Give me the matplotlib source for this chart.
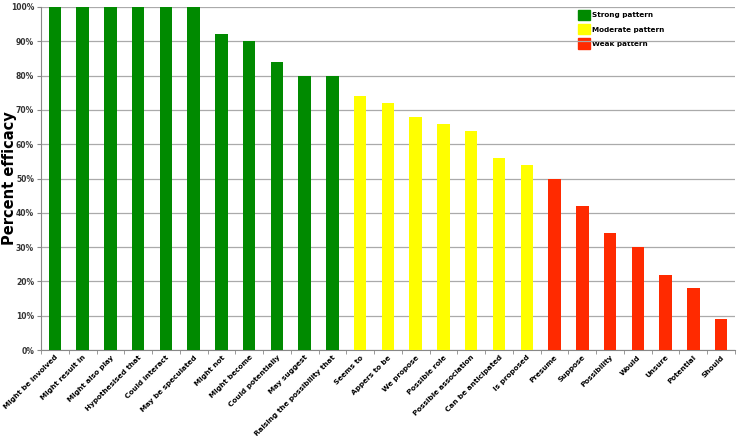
import numpy as np
import matplotlib.pyplot as plt
from matplotlib.patches import Patch

labels = ["Might be involved", "Might result in", "Might also play", "Hypothesised that",
          "Could interact", "May be speculated", "Might not", "Might become",
          "Could potentially", "May suggest", "Raising the possibility that",
          "Seems to", "Appers to be", "We propose", "Possible role",
          "Possible association", "Can be anticipated", "Is proposed",
          "Presume", "Suppose", "Possibility", "Would", "Unsure", "Potential", "Should"]
values = [100, 100, 100, 100, 100, 100, 92, 90, 84, 80, 80,
          74, 72, 68, 66, 64, 56, 54,
          50, 42, 34, 30, 22, 18, 9]
groups = ["Strong"] * 11 + ["Moderate"] * 7 + ["Weak"] * 7

COLORS = {"Strong": "#008A00", "Moderate": "#FFFF00", "Weak": "#FF2A00"}

fig = plt.figure(figsize=(7.39, 4.36), dpi=100)
ax = fig.add_axes([0.0555, 0.197, 0.939, 0.787])

x = np.arange(len(labels))
ax.bar(x, values, width=0.45, color=[COLORS[g] for g in groups], zorder=3)

ax.set_xlim(-0.5, len(labels) - 0.5)
ax.set_ylim(0, 100)
ax.set_yticks(np.arange(0, 101, 10))
ax.set_yticklabels([f"{v}%" for v in range(0, 101, 10)], fontsize=5.5, fontweight="bold",
                   color="#333333")
ax.yaxis.grid(True, color="#AAAAAA", linewidth=0.9, zorder=0)
ax.set_xticks(x)
ax.set_xticklabels(labels, rotation=45, ha="right", rotation_mode="anchor",
                   fontsize=5.2, fontweight="bold")
ax.tick_params(axis="x", length=0, pad=3)
ax.set_xticks(np.arange(-0.5, len(labels), 1), minor=True)
ax.tick_params(axis="x", which="minor", length=3, color="#888888")
ax.tick_params(axis="y", length=3, color="#888888", pad=2)
ax.set_ylabel("Percent efficacy", fontsize=10.5, fontweight="bold")
ax.yaxis.set_label_coords(-0.034, 0.5)

for s in ["top", "right"]:
    ax.spines[s].set_visible(False)
for s in ["left", "bottom"]:
    ax.spines[s].set_color("#888888")

handles = [Patch(color=COLORS["Strong"], label="Strong pattern"),
           Patch(color=COLORS["Moderate"], label="Moderate pattern"),
           Patch(color=COLORS["Weak"], label="Weak pattern")]
leg = ax.legend(handles=handles, loc="upper left", bbox_to_anchor=(0.765, 1.01),
                frameon=False, prop={"size": 5.2, "weight": "bold"},
                handlelength=1.6, handleheight=1.8, handletextpad=0.3, labelspacing=0.55)
leg.set_zorder(1)

fig.savefig("out.png", dpi=100)
